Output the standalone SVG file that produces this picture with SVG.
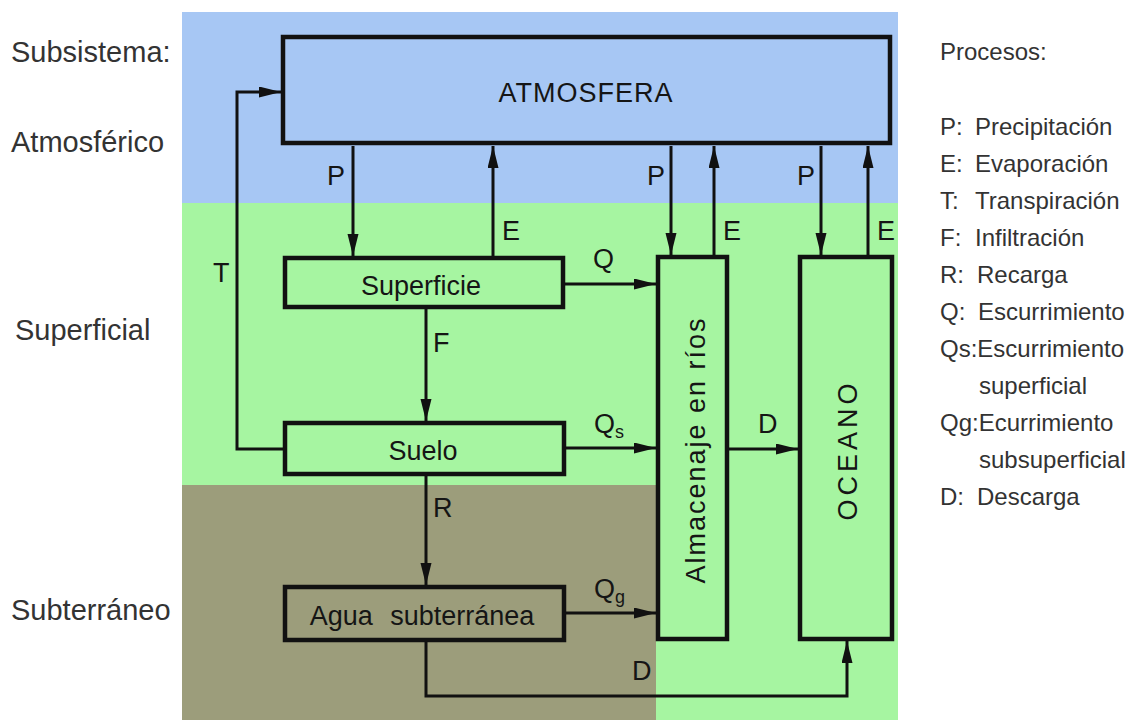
<svg xmlns="http://www.w3.org/2000/svg" width="1129" height="720" viewBox="0 0 1129 720">
<style>
.box{stroke:#111;stroke-width:4.5}
.con{fill:none;stroke:#111;stroke-width:3}
.lbl{font-family:"Liberation Sans",Arial,sans-serif;font-size:27px;fill:#151515}
.side{font-family:"Liberation Sans",Arial,sans-serif;font-size:29px;fill:#333}
.leg{font-family:"Liberation Sans",Arial,sans-serif;font-size:24px;fill:#333}
.sub{font-size:18px}
</style>
<defs>
<marker id="ah" markerUnits="userSpaceOnUse" markerWidth="24" markerHeight="14" refX="22" refY="5.5" orient="auto">
<path d="M0,0 L22,5.5 L0,11 Z" fill="#111"/>
</marker>
</defs>
<rect x="0" y="0" width="1129" height="720" fill="#ffffff"/>
<g id="background">
<rect x="182" y="12" width="716" height="192" fill="#a7c7f4"/>
<rect x="182" y="203" width="716" height="517" fill="#a6f5a1"/>
<rect x="182" y="485" width="474" height="235" fill="#9c9d7b"/>
</g>
<g id="side-labels">
<text class="side" x="11" y="62">Subsistema:</text>
<text class="side" x="11" y="152">Atmosférico</text>
<text class="side" x="15" y="340">Superficial</text>
<text class="side" x="11" y="620">Subterráneo</text>
</g>
<g id="legend">
<text class="leg" x="940" y="60">Procesos:</text>
<text class="leg" y="135"><tspan x="940">P:</tspan><tspan x="975">Precipitación</tspan></text>
<text class="leg" y="172"><tspan x="940">E:</tspan><tspan x="975">Evaporación</tspan></text>
<text class="leg" y="209"><tspan x="940">T:</tspan><tspan x="975">Transpiración</tspan></text>
<text class="leg" y="246"><tspan x="940">F:</tspan><tspan x="975">Infiltración</tspan></text>
<text class="leg" y="283"><tspan x="940">R:</tspan><tspan x="977">Recarga</tspan></text>
<text class="leg" y="320"><tspan x="940">Q:</tspan><tspan x="978">Escurrimiento</tspan></text>
<text class="leg" x="940" y="357">Qs:Escurrimiento</text>
<text class="leg" x="979" y="394">superficial</text>
<text class="leg" x="940" y="431">Qg:Ecurrimiento</text>
<text class="leg" x="979" y="468">subsuperficial</text>
<text class="leg" y="505"><tspan x="940">D:</tspan><tspan x="977">Descarga</tspan></text>
</g>
<g id="connectors">
<path class="con" d="M353,146 V256" marker-end="url(#ah)"/>
<path class="con" d="M493,256 V146" marker-end="url(#ah)"/>
<path class="con" d="M671,146 V255" marker-end="url(#ah)"/>
<path class="con" d="M714,255 V146" marker-end="url(#ah)"/>
<path class="con" d="M821,146 V255" marker-end="url(#ah)"/>
<path class="con" d="M868,255 V146" marker-end="url(#ah)"/>
<path class="con" d="M565,284 H656" marker-end="url(#ah)"/>
<path class="con" d="M426,309 V421" marker-end="url(#ah)"/>
<path class="con" d="M566,448 H656" marker-end="url(#ah)"/>
<path class="con" d="M729,449 H798" marker-end="url(#ah)"/>
<path class="con" d="M426,476 V585" marker-end="url(#ah)"/>
<path class="con" d="M566,613 H656" marker-end="url(#ah)"/>
<path class="con" d="M283,449 H237 V92 H281" marker-end="url(#ah)"/>
<path class="con" d="M426,642 V696 H847 V641" marker-end="url(#ah)"/>
<text class="lbl" x="327" y="185">P</text>
<text class="lbl" x="502" y="240">E</text>
<text class="lbl" x="647" y="185">P</text>
<text class="lbl" x="723" y="240">E</text>
<text class="lbl" x="797" y="185">P</text>
<text class="lbl" x="877" y="240">E</text>
<text class="lbl" x="593" y="268">Q</text>
<text class="lbl" x="213" y="282">T</text>
<text class="lbl" x="433" y="352">F</text>
<text class="lbl" x="594" y="433">Q<tspan class="sub" dy="5">s</tspan></text>
<text class="lbl" x="758" y="433">D</text>
<text class="lbl" x="433" y="517">R</text>
<text class="lbl" x="594" y="598">Q<tspan class="sub" dy="5">g</tspan></text>
<text class="lbl" x="632" y="680">D</text>
</g>
<g id="atmosfera">
<rect class="box" x="283" y="37" width="607" height="106" fill="#a7c7f4" stroke-width="5"/>
<text class="lbl" x="586" y="102" text-anchor="middle" font-size="28" letter-spacing="1">ATMOSFERA</text>
</g>
<g id="superficie">
<rect class="box" x="285" y="258" width="278" height="49" fill="#a6f5a1"/>
<text class="lbl" x="421" y="295" text-anchor="middle">Superficie</text>
</g>
<g id="suelo">
<rect class="box" x="285" y="423" width="279" height="51" fill="#a6f5a1"/>
<text class="lbl" x="423" y="460" text-anchor="middle">Suelo</text>
</g>
<g id="agua-subterranea">
<rect class="box" x="285" y="587" width="279" height="53" fill="#9c9d7b"/>
<text class="lbl" x="422" y="625" text-anchor="middle" word-spacing="10">Agua subterránea</text>
</g>
<g id="almacenaje">
<rect class="box" x="658" y="257" width="69" height="382" fill="#a6f5a1"/>
<text class="lbl" transform="translate(705,450) rotate(-90)" text-anchor="middle" font-size="29" letter-spacing="2">Almacenaje en ríos</text>
</g>
<g id="oceano">
<rect class="box" x="800" y="257" width="92" height="382" fill="#a6f5a1"/>
<text class="lbl" transform="translate(857,450) rotate(-90)" text-anchor="middle" font-size="29" letter-spacing="4">OCEANO</text>
</g>
</svg>
